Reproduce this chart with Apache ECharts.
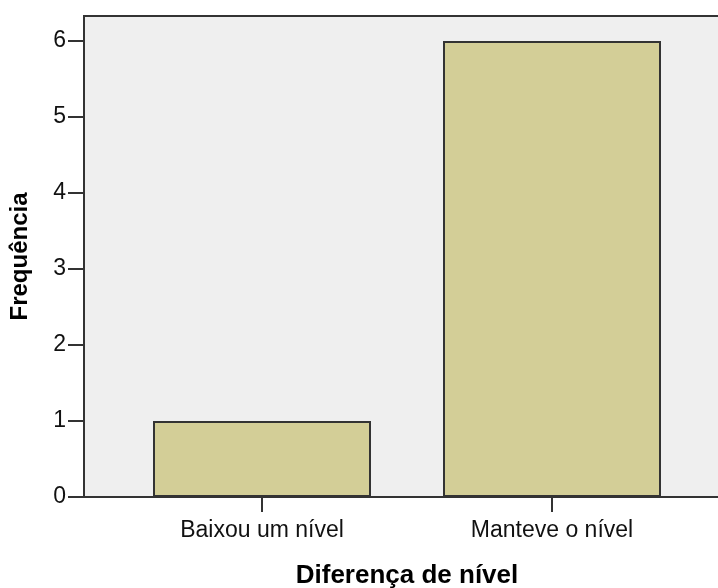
<!DOCTYPE html>
<html>
<head>
<meta charset="utf-8">
<script src="https://cdn.jsdelivr.net/npm/echarts@6/dist/echarts.min.js"></script>
<style>
html,body{margin:0;padding:0;background:#fff;}
#chart{width:718px;height:588px;}
</style>
</head>
<body>
<div id="chart"></div>
<script>
const categories = ['Baixou um nível', 'Manteve o nível'];
const frequencies = [1, 6];
const yTicks = [0, 1, 2, 3, 4, 5, 6];
const xTitle = 'Diferença de nível';
const yTitle = 'Frequência';

const FONT = "'Liberation Sans', Arial, sans-serif";
const YMAX = 6.33;

const chart = echarts.init(document.getElementById('chart'), null, {renderer: 'canvas'});
chart.setOption({
  animation: false,
  backgroundColor: '#ffffff',
  grid: [
    {left: 84, right: -10, top: 16, bottom: 91, show: true, containLabel: false, outerBoundsMode: 'none',
     backgroundColor: '#efefef', borderColor: '#333333', borderWidth: 2},
    {left: 117, right: 21, top: 16, bottom: 91, containLabel: false, outerBoundsMode: 'none'}
  ],
  xAxis: [
    {gridIndex: 0, type: 'value', min: 0, max: 1, show: false},
    {gridIndex: 1, type: 'category', data: categories,
     axisLine: {show: false},
     axisTick: {show: true, alignWithLabel: true, length: 15, lineStyle: {color: '#333333', width: 2}},
     axisLabel: {fontFamily: FONT, fontSize: 23, color: '#111111', margin: 22},
     name: xTitle, nameLocation: 'middle', nameGap: 66,
     nameTextStyle: {fontFamily: FONT, fontSize: 26, fontWeight: 'bold', color: '#000'}}
  ],
  yAxis: [
    {gridIndex: 0, type: 'value', min: 0, max: YMAX,
     axisLine: {show: false},
     splitLine: {show: false},
     axisTick: {show: true, length: 16, customValues: yTicks, lineStyle: {color: '#333333', width: 2}},
     axisLabel: {fontFamily: FONT, fontSize: 23, color: '#111111', margin: 18, customValues: yTicks},
     name: yTitle, nameLocation: 'middle', nameGap: 52,
     nameTextStyle: {fontFamily: FONT, fontSize: 24, fontWeight: 'bold', color: '#000'}},
    {gridIndex: 1, type: 'value', min: 0, max: YMAX, show: false}
  ],
  series: [{
    type: 'bar', xAxisIndex: 1, yAxisIndex: 1,
    data: frequencies, barWidth: 218,
    itemStyle: {color: '#d3ce97', borderColor: '#333333', borderWidth: 2}
  }]
});
</script>
</body>
</html>
